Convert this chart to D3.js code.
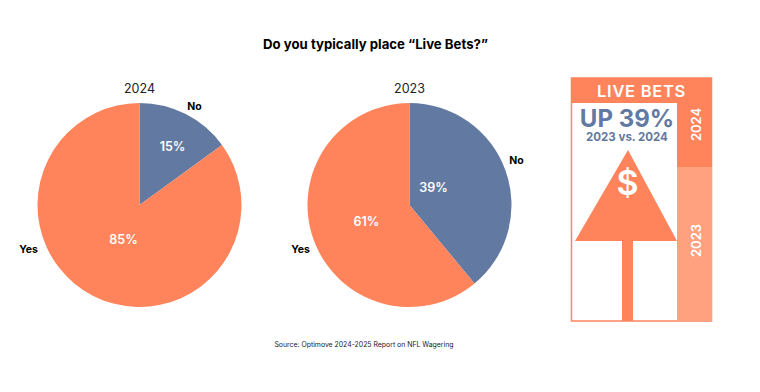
<!DOCTYPE html>
<html>
<head>
<meta charset="utf-8">
<script src="https://cdn.jsdelivr.net/npm/d3@7"></script>
<style>
  html, body { margin: 0; background: #fff; }
  text { font-family: Inter, Lato, sans-serif; }
</style>
</head>
<body>
<div id="chart"></div>
<script>
const answers = ['No', 'Yes']
const values2024 = [15, 85]
const values2023 = [39, 61]
const panelYears = ['2024', '2023']

const w = 760, h = 392
const orange = '#ff845c', blue = '#6279a1', lightOrange = '#ffa17f'

const svg = d3.select('#chart').append('svg').attr('width', w).attr('height', h)
  .style('display', 'block')

svg.append('text').text('Do you typically place “Live Bets?”')
  .attr('x', 375.5).attr('y', 49).attr('text-anchor', 'middle')
  .attr('font-size', 13.2).attr('font-weight', 700).attr('fill', '#000')

const color = d3.scaleOrdinal().domain(answers).range([blue, orange])
const radius = 102
const pie = d3.pie().sort(null)
const arc = d3.arc().innerRadius(0).outerRadius(radius)

function drawPie (cx, year, values, labelPos, pctPos) {
  let g = svg.append('g').attr('transform', `translate(${cx}, 205)`)
  let slices = pie(values)
  g.selectAll('path').data(slices).enter().append('path')
    .attr('d', arc)
    .attr('fill', (d, i) => color(answers[i]))
  g.selectAll('text.pct').data(slices).enter().append('text').classed('pct', true)
    .text(d => d.data + '%')
    .attr('x', (d, i) => pctPos[i][0])
    .attr('y', (d, i) => pctPos[i][1] + 5)
    .attr('text-anchor', 'middle').attr('font-size', 12.5).attr('font-weight', 600)
    .attr('fill', '#fff')
  g.append('text').text(year)
    .attr('y', -112).attr('text-anchor', 'middle')
    .attr('font-size', 12.5).attr('fill', '#222')
  // category labels sit outside the pie
  answers.forEach((a, i) => {
    g.append('text').text(a)
      .attr('x', labelPos[i][0]).attr('y', labelPos[i][1])
      .attr('text-anchor', 'middle').attr('font-size', 10.5).attr('font-weight', 700)
      .attr('fill', '#000')
  })
}

drawPie(139.5, panelYears[0], values2024, [[55, -95], [-111, 48]], [[33, -59], [-16, 34]])
drawPie(409.5, panelYears[1], values2023, [[107, -41], [-109, 48]], [[24, -18], [-43, 16]])

// live bets panel
let panel = svg.append('g')
panel.append('rect').attr('x', 571.5).attr('y', 78).attr('width', 140).attr('height', 243)
  .attr('fill', '#fff').attr('stroke', orange).attr('stroke-width', 1.5)
panel.append('rect').attr('x', 571).attr('y', 78).attr('width', 141).attr('height', 25).attr('fill', orange)
panel.append('rect').attr('x', 677).attr('y', 103).attr('width', 35).attr('height', 64).attr('fill', orange)
panel.append('rect').attr('x', 677).attr('y', 167).attr('width', 35).attr('height', 154.5).attr('fill', lightOrange)
panel.append('rect').attr('x', 622).attr('y', 240).attr('width', 11).attr('height', 81).attr('fill', orange)
panel.append('path').attr('d', d3.line()([[628, 150], [677, 241], [575, 241]]) + 'Z').attr('fill', orange)

panel.append('text').text('LIVE BETS')
  .attr('x', 641.5).attr('y', 97).attr('text-anchor', 'middle')
  .attr('font-size', 16.5).attr('font-weight', 600).attr('letter-spacing', 0.7).attr('fill', '#fff')
panel.append('text').text('UP 39%')
  .attr('x', 627).attr('y', 127).attr('text-anchor', 'middle')
  .attr('font-size', 24).attr('font-weight', 700).attr('fill', blue)
panel.append('text').text('2023 vs. 2024')
  .attr('x', 627).attr('y', 140.5).attr('text-anchor', 'middle')
  .attr('font-size', 11.5).attr('font-weight', 700).attr('fill', blue)
panel.append('text').text('$')
  .attr('x', 627.5).attr('y', 195).attr('text-anchor', 'middle')
  .attr('font-size', 34).attr('font-weight', 600).attr('fill', '#fff')

const yearY = [124.5, 240.5]
panelYears.forEach((y, i) => {
  panel.append('text').text(y)
    .attr('transform', `translate(700.5, ${yearY[i]}) rotate(-90)`)
    .attr('text-anchor', 'middle')
    .attr('font-size', 13).attr('font-weight', 600).attr('fill', '#fff')
})

svg.append('text').text('Source: Optimove 2024-2025 Report on NFL Wagering')
  .attr('x', 364).attr('y', 347).attr('text-anchor', 'middle')
  .attr('font-size', 6.9).attr('fill', '#222')
</script>
</body>
</html>
